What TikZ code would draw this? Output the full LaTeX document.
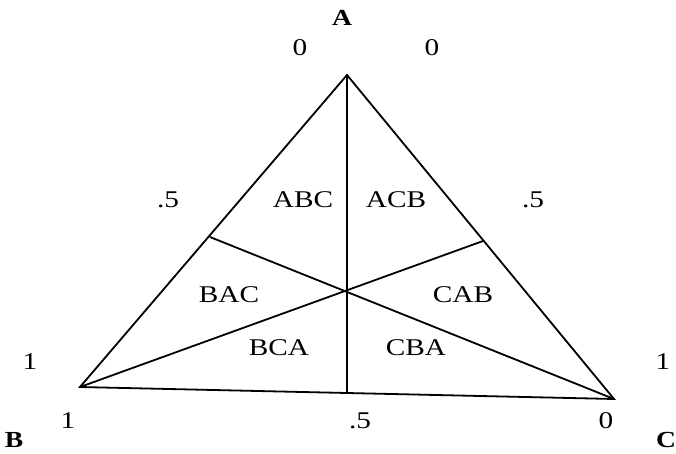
\documentclass[tikz,border=0pt]{standalone}
\usepackage{fontspec}
\setmainfont{Liberation Serif}
\begin{document}
\begin{tikzpicture}[x=1pt,y=-1pt,
  edge/.style={draw=black,line width=1.8pt,line join=miter},
  lbl/.style={font=\fontsize{24}{26}\selectfont,inner sep=0pt,anchor=center,xscale=1.22},
  vtx/.style={font=\fontsize{23}{25}\selectfont\bfseries,inner sep=0pt,anchor=center,xscale=1.2}]
\useasboundingbox (0,0) rectangle (676,454);
\coordinate (A) at (347,75);
\coordinate (B) at (80,387);
\coordinate (C) at (614,399);
\coordinate (O) at (347,291);
\coordinate (mAB) at (210,237);
\coordinate (mAC) at (483,241);
\coordinate (mBC) at (347,392);
\draw[edge] (A) -- (B) -- (C) -- cycle;
\draw[edge] (A) -- (mBC);
\draw[edge] (B) -- (mAC);
\draw[edge] (C) -- (mAB);
\node[vtx] (lA) at (342,18) {A};
\node[vtx] (lB) at (14,440) {B};
\node[vtx] (lC) at (666,440) {C};
\node[lbl] (t1) at (300,48) {0};
\node[lbl] (t2) at (432,48) {0};
\node[lbl] (t3) at (168,200) {.5};
\node[lbl] (t4) at (533,200) {.5};
\node[lbl] (t5) at (30,362) {1};
\node[lbl] (t6) at (663,362) {1};
\node[lbl] (t7) at (68,421) {1};
\node[lbl] (t8) at (360,421) {.5};
\node[lbl] (t9) at (606,421) {0};
\node[lbl] (r1) at (303,200) {ABC};
\node[lbl] (r2) at (396,200) {ACB};
\node[lbl] (r3) at (229,295) {BAC};
\node[lbl] (r4) at (463,295) {CAB};
\node[lbl] (r5) at (279,348) {BCA};
\node[lbl] (r6) at (416,348) {CBA};
\end{tikzpicture}
\end{document}
